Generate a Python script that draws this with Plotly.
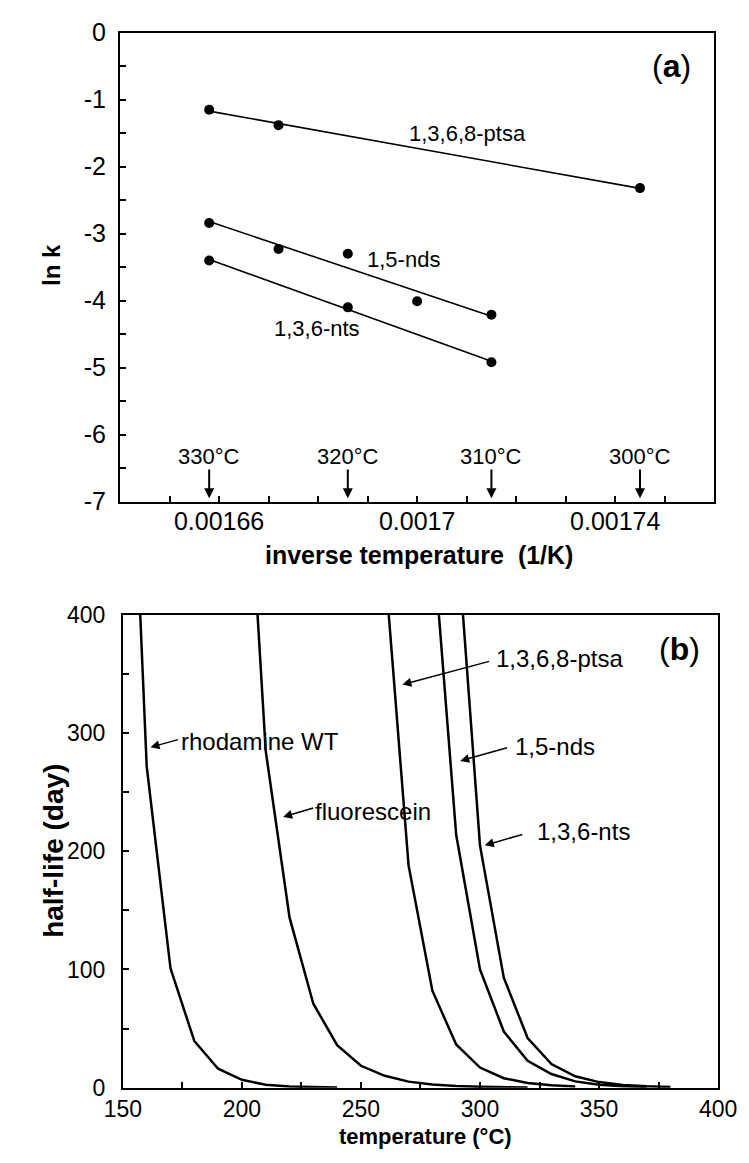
import numpy as np
import plotly.graph_objects as go

# ---------------- Panel (a): ln k vs inverse temperature ----------------
inv_T_ptsa = [0.001658, 0.001672, 0.001745]
lnk_ptsa = [-1.15, -1.38, -2.32]

inv_T_nds = [0.001658, 0.001672, 0.001686, 0.001700, 0.001715]
lnk_nds = [-2.84, -3.23, -3.30, -4.01, -4.21]

inv_T_nts = [0.001658, 0.001686, 0.001715]
lnk_nts = [-3.40, -4.10, -4.92]

temp_mark_invT = [0.001658, 0.001686, 0.001715, 0.001745]
temp_mark_text = ["330°C", "320°C", "310°C", "300°C"]

xa_tickvals = [0.00166, 0.0017, 0.00174]
xa_ticktext = ["0.00166", "0.0017", "0.00174"]
ya_tickvals = [0, -1, -2, -3, -4, -5, -6, -7]
ya_ticktext = ["0", "-1", "-2", "-3", "-4", "-5", "-6", "-7"]

# ---------------- Panel (b): half-life vs temperature ----------------
T_rhod = [150, 160, 170, 180, 190, 200, 210, 220, 230, 240]
hl_rhod = [745, 272, 101, 39.5, 16, 6.6, 2.4, 1.0, 0.45, 0.2]

T_fluo = [200, 210, 220, 230, 240, 250, 260, 270, 280, 290, 300, 310, 320]
hl_fluo = [620, 285, 144, 71, 36, 18.5, 10, 5.1, 2.6, 1.3, 0.7, 0.35, 0.2]

T_ptsa = [260, 270, 280, 290, 300, 310, 320, 330, 340]
hl_ptsa = [443, 188, 82, 36.5, 17, 8, 4, 2, 1]

T_nds = [280, 290, 300, 310, 320, 330, 340, 350, 360, 370]
hl_nds = [470, 214, 100, 47.5, 22.7, 11.5, 5.3, 2.5, 1.2, 0.6]

T_nts = [290, 300, 310, 320, 330, 340, 350, 360, 370, 380]
hl_nts = [478, 205, 93, 42, 20, 9.6, 4.7, 2.3, 1.1, 0.55]

xb_tickvals = [150, 200, 250, 300, 350, 400]
yb_tickvals = [0, 100, 200, 300, 400]

FONT = "Liberation Sans, Arial, Helvetica, sans-serif"
W, H = 749, 1163


def px(X):
    return X / W


def py(Y):
    return 1 - Y / H


fig = go.Figure()

# panel (a) series
for xs, ys in [(inv_T_ptsa, lnk_ptsa), (inv_T_nds, lnk_nds), (inv_T_nts, lnk_nts)]:
    p = np.polyfit(xs, ys, 1)
    xl = [xs[0], xs[-1]]
    fig.add_trace(go.Scatter(x=xl, y=list(np.polyval(p, xl)), mode="lines",
                             line=dict(color="black", width=1.6),
                             xaxis="x", yaxis="y", showlegend=False, hoverinfo="skip"))
    fig.add_trace(go.Scatter(x=xs, y=ys, mode="markers",
                             marker=dict(color="black", size=10),
                             xaxis="x", yaxis="y", showlegend=False))

# panel (b) series
for xs, ys in [(T_rhod, hl_rhod), (T_fluo, hl_fluo), (T_ptsa, hl_ptsa),
               (T_nds, hl_nds), (T_nts, hl_nts)]:
    fig.add_trace(go.Scatter(x=xs, y=ys, mode="lines",
                             line=dict(color="black", width=2.5),
                             xaxis="x2", yaxis="y2", showlegend=False))


def axis_common(size):
    return dict(showline=True, linecolor="black", linewidth=2, mirror=True,
                ticks="inside", ticklen=6, tickwidth=1.5, tickcolor="black",
                showgrid=False, zeroline=False,
                tickfont=dict(family=FONT, size=size, color="black"))


def minor(d, t0):
    return dict(dtick=d, tick0=t0, ticks="inside", ticklen=6, tickwidth=1.5,
                tickcolor="black")


fig.update_layout(
    width=W, height=H, autosize=False,
    margin=dict(l=0, r=0, t=0, b=0),
    paper_bgcolor="white", plot_bgcolor="white",
    font=dict(family=FONT, color="black"),
    xaxis=dict(domain=[px(98), px(724)], range=[0.00164, 0.00176],
               tickmode="array", tickvals=xa_tickvals, ticktext=xa_ticktext,
               ticklabelstandoff=-4, minor=minor(0.00001, 0.00164),
               anchor="y", **axis_common(25)),
    yaxis=dict(domain=[py(492), py(12)], range=[-7, 0],
               tickmode="array", tickvals=ya_tickvals, ticktext=ya_ticktext,
               ticklabelstandoff=7, minor=minor(0.5, 0),
               anchor="x", **axis_common(25)),
    xaxis2=dict(domain=[px(101), px(728)], range=[150, 400],
                tickmode="array", tickvals=xb_tickvals, ticklabelstandoff=0,
                minor=minor(25, 150), anchor="y2", **axis_common(23)),
    yaxis2=dict(domain=[py(1092), py(608)], range=[0, 400],
                tickmode="array", tickvals=yb_tickvals, ticklabelstandoff=11,
                minor=minor(50, 0), anchor="x2", **axis_common(23)),
)

ann = []
lab_a = dict(family=FONT, size=22, color="black")
lab_b = dict(family=FONT, size=24, color="black")


def paper_text(text, X, Y, size, angle=0):
    return dict(text=text, x=px(X), y=py(Y), xref="paper", yref="paper",
                xanchor="center", yanchor="middle", textangle=angle,
                showarrow=False, font=dict(family=FONT, size=size, color="black"))


# axis titles
ann.append(paper_text("<b>ln k</b>", 25, 250, 24, -90))
ann.append(paper_text("<b>inverse temperature \u00a0(1/K)</b>", 413, 547, 25))
ann.append(paper_text("<b>half-life (day)</b>", 28, 850, 28, -90))
ann.append(paper_text("<b>temperature (°C)</b>", 420, 1142, 22))

# panel (a) labels
ann.append(dict(text="(<b>a</b>)", x=0.0017513, y=-0.5, xref="x", yref="y",
                xanchor="center", yanchor="middle",
                showarrow=False, font=dict(family=FONT, size=32)))
for tx, x, y in [("1,3,6,8-ptsa", 0.0017101, -1.50), ("1,5-nds", 0.0016973, -3.39),
                 ("1,3,6-nts", 0.0016798, -4.41)]:
    ann.append(dict(text=tx, x=x, y=y, xref="x", yref="y", xanchor="center",
                    yanchor="middle", showarrow=False, font=lab_a))
for xv, tx in zip(temp_mark_invT, temp_mark_text):
    ann.append(dict(text=tx, x=xv, y=-6.32, xref="x", yref="y", xanchor="center",
                    yanchor="middle", showarrow=False, font=lab_a))
    ann.append(dict(text="", x=xv, y=-6.95, xref="x", yref="y", ax=xv, ay=-6.5,
                    axref="x", ayref="y", showarrow=True, arrowhead=2, arrowsize=1,
                    arrowwidth=2, arrowcolor="black"))

# panel (b) labels
ann.append(dict(text="(<b>b</b>)", x=384, y=371, xref="x2", yref="y2",
                xanchor="center", yanchor="middle",
                showarrow=False, font=dict(family=FONT, size=32)))
b_labels = [
    # text, text x, text y, tail x, tail y, tip x, tip y
    ("1,3,6,8-ptsa", 333.5, 363, 304.5, 361, 267.4, 341),
    ("1,5-nds", 331.4, 289, 312, 288, 291.7, 276.4),
    ("1,3,6-nts", 343.5, 217, 318.4, 214.6, 302.0, 205),
    ("rhodamine WT", 207.6, 293, 173.8, 294.8, 161.6, 288),
    ("fluorescein", 255.1, 234, 230.6, 237, 217.3, 229),
]
for tx, x, y, axv, ayv, hx, hy in b_labels:
    ann.append(dict(text=tx, x=x, y=y, xref="x2", yref="y2", xanchor="center",
                    yanchor="middle", showarrow=False, font=lab_b))
    ann.append(dict(text="", x=hx, y=hy, xref="x2", yref="y2", ax=axv, ay=ayv,
                    axref="x2", ayref="y2", showarrow=True, arrowhead=2, arrowsize=1.2,
                    arrowwidth=1.5, arrowcolor="black"))

fig.update_layout(annotations=ann)
fig.write_html("out.html")
